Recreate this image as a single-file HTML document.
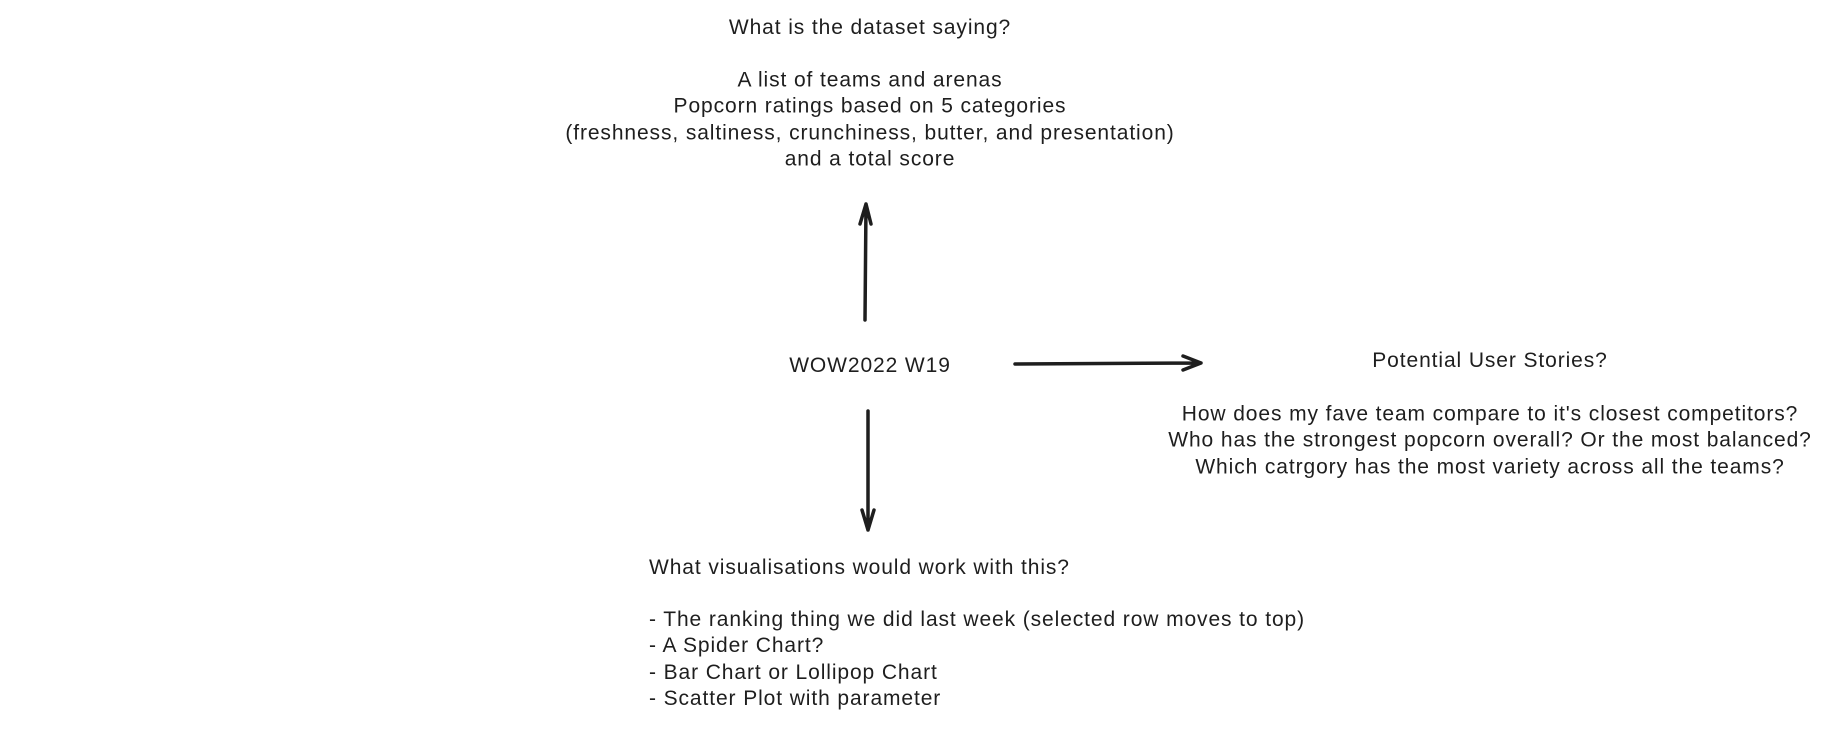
<!DOCTYPE html>
<html><head><meta charset="utf-8"><style>
body{margin:0;width:1824px;height:731px;background:#fff;position:relative;overflow:hidden;font-family:"Liberation Sans",sans-serif;font-size:21px;letter-spacing:0.9px;color:#1e1e1e}
.c{position:absolute;transform:translate(-50%,-50%);white-space:nowrap;text-align:center;line-height:26.3px}
.l{position:absolute;white-space:nowrap;line-height:26.3px}
</style></head><body>
<div class="c" style="left:870px;top:28px">What is the dataset saying?</div>
<div class="c" style="left:870px;top:120px">A list of teams and arenas<br>Popcorn ratings based on 5 categories<br>(freshness, saltiness, crunchiness, butter, and presentation)<br>and a total score</div>
<div class="c" style="left:870px;top:366px">WOW2022 W19</div>
<div class="c" style="left:1490px;top:361px">Potential User Stories?</div>
<div class="c" style="left:1490px;top:441px">How does my fave team compare to it's closest competitors?<br>Who has the strongest popcorn overall? Or the most balanced?<br>Which catrgory has the most variety across all the teams?</div>
<div class="l" style="left:649px;top:555px">What visualisations would work with this?</div>
<div class="l" style="left:649px;top:607px">- The ranking thing we did last week (selected row moves to top)<br>- A Spider Chart?<br>- Bar Chart or Lollipop Chart<br>- Scatter Plot with parameter</div>
<svg width="1824" height="731" style="position:absolute;left:0;top:0" fill="none" stroke="#1e1e1e" stroke-width="3.5" stroke-linecap="round" stroke-linejoin="round">
<path d="M865 320 L866 204 M860 224 L866 204 L871 224"/>
<path d="M1015 364 L1201 363 M1183 356 L1201 363 L1183 370"/>
<path d="M868 411 L868 530 M862 510 L868 530 L874 510"/>
</svg>
</body></html>
